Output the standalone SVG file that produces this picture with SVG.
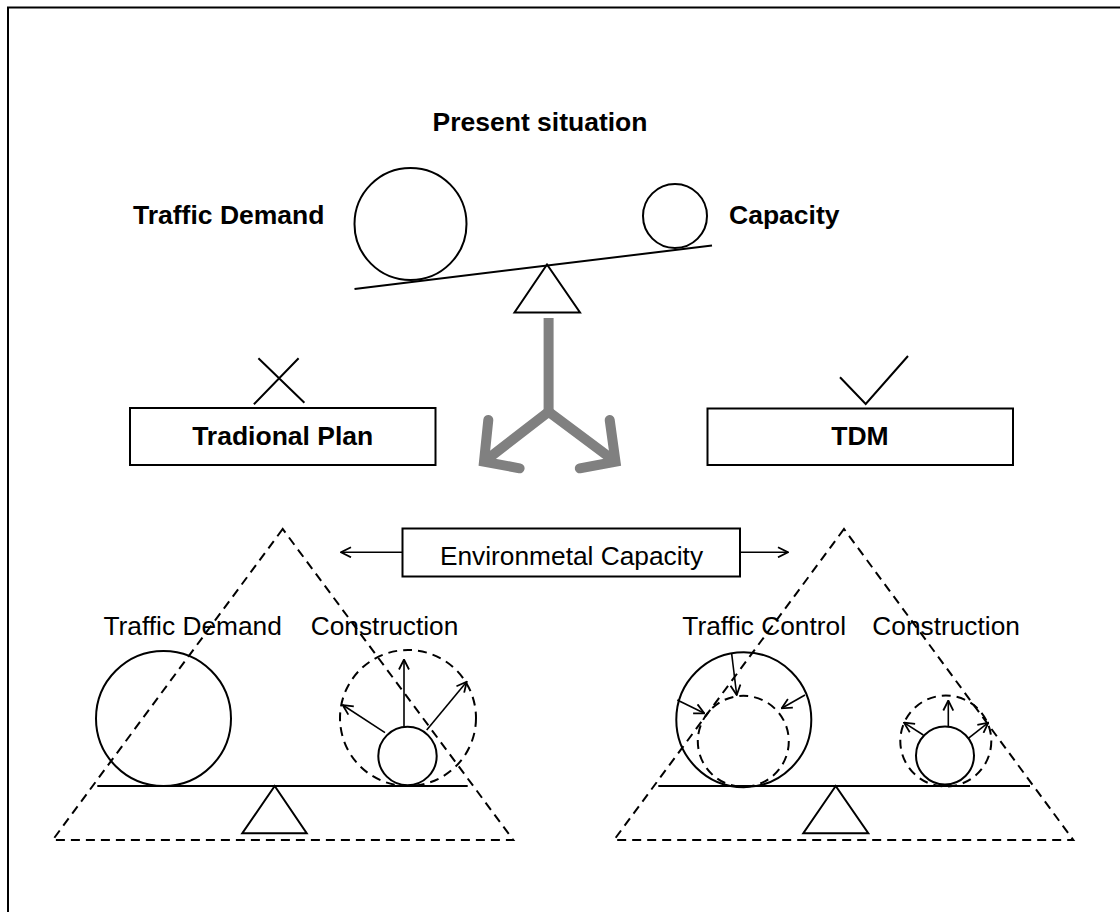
<svg xmlns="http://www.w3.org/2000/svg" width="1120" height="912" viewBox="0 0 1120 912">
  <defs>
    <marker id="arrow-open" viewBox="0 0 12 12" refX="11" refY="6" markerWidth="12" markerHeight="12" markerUnits="userSpaceOnUse" orient="auto">
      <path d="M1,1 L11,6 L1,11" fill="none" stroke="#000" stroke-width="1.8"/>
    </marker>
  </defs>
  <style>
    .bold { font-family: "Liberation Sans", Arial, sans-serif; font-weight: bold; font-size: 26.5px; fill: #000; }
    .label { font-family: "Liberation Sans", Arial, sans-serif; font-size: 26.3px; fill: #000; }
    .solid { fill: none; stroke: #000; stroke-width: 2; }
    .thin { fill: none; stroke: #000; stroke-width: 1.6; }
    .dash { fill: none; stroke: #000; stroke-width: 2; stroke-dasharray: 9 6; }
    .box { fill: #fff; stroke: #000; stroke-width: 2; }
    .push { fill: none; stroke: #000; stroke-width: 1.6; marker-end: url(#arrow-open); }
    .fork { fill: none; stroke: #808080; stroke-width: 10; }
  </style>

  <rect width="1120" height="912" fill="#fff"/>
  <!-- page frame -->
  <rect x="8" y="7.5" width="1130" height="930" fill="none" stroke="#000" stroke-width="2"/>

  <!-- present situation: unbalanced seesaw -->
  <g id="present-situation">
    <text class="bold" x="540" y="131" text-anchor="middle">Present situation</text>
    <text class="bold" x="133" y="224">Traffic Demand</text>
    <text class="bold" x="729" y="224">Capacity</text>
    <circle class="solid" cx="410.5" cy="224" r="56"/>
    <circle class="solid" cx="675" cy="216" r="32"/>
    <line class="solid" x1="354.5" y1="289" x2="712" y2="245.5"/>
    <polygon class="solid" points="547,264.5 514.5,312.5 580,312.5" stroke-width="2.2"/>
  </g>

  <!-- fork of choices -->
  <g id="connectors">
    <line class="fork" x1="548.6" y1="318" x2="548.6" y2="412"/>
    <path class="fork" d="M484,461.7 L548.6,411.7 L615.5,461.7" stroke-linejoin="miter"/>
    <path class="fork" d="M488.3,420 L484,461.7 L519.6,468.3" stroke-linecap="round" stroke-linejoin="miter"/>
    <path class="fork" d="M609.7,420 L615.5,461.7 L579.8,468.3" stroke-linecap="round" stroke-linejoin="miter"/>
    <line class="push" x1="402.5" y1="552.3" x2="341" y2="552.3"/>
    <line class="push" x1="740" y1="552.3" x2="788" y2="552.3"/>
  </g>

  <g id="traditional-plan">
    <rect class="box" x="130" y="408" width="305.5" height="57"/>
    <text class="bold" x="282.7" y="444.5" text-anchor="middle">Tradional Plan</text>
    <path class="solid" d="M258.4,358.3 L304.4,402.7 M298.6,358.3 L253.9,404.3"/>
  </g>

  <g id="tdm">
    <rect class="box" x="707.5" y="408.5" width="305.5" height="56.5"/>
    <text class="bold" x="860" y="445" text-anchor="middle">TDM</text>
    <path class="solid" d="M840,377.3 L865.7,404 L908,356" stroke-width="2.2"/>
  </g>

  <g id="environmental-capacity">
    <rect class="box" x="402.5" y="528.5" width="337.5" height="48"/>
    <text class="label" x="571.5" y="564.5" text-anchor="middle">Environmetal Capacity</text>
  </g>

  <!-- traditional plan outcome -->
  <g id="traditional-outcome">
    <polygon class="dash" points="282.7,529 52.7,840 513.3,840"/>
    <text class="label" x="103.5" y="635">Traffic Demand</text>
    <text class="label" x="310.7" y="635">Construction</text>
    <circle class="solid" cx="163.5" cy="718.5" r="67.5"/>
    <circle class="dash" cx="408" cy="718" r="68"/>
    <circle class="solid" cx="407.5" cy="756" r="29.2"/>
    <line class="solid" x1="97.3" y1="786" x2="467.7" y2="786"/>
    <polygon class="solid" points="274.7,786 242.3,833.3 306.7,833.3" stroke-width="2.2"/>
    <line class="push" x1="404" y1="726.7" x2="404" y2="659.5"/>
    <line class="push" x1="385" y1="732.7" x2="342.7" y2="705"/>
    <line class="push" x1="426.7" y1="730" x2="466.7" y2="681.7"/>
  </g>

  <!-- TDM outcome -->
  <g id="tdm-outcome">
    <polygon class="dash" points="844,529 614,840 1073.3,840"/>
    <text class="label" x="682.3" y="635">Traffic Control</text>
    <text class="label" x="872.3" y="635">Construction</text>
    <circle class="solid" cx="743.8" cy="719.7" r="67.5"/>
    <circle class="dash" cx="743.3" cy="741.3" r="45.5"/>
    <line class="push" x1="731.7" y1="654" x2="736.7" y2="695"/>
    <line class="push" x1="677.3" y1="700" x2="704.3" y2="713.3"/>
    <line class="push" x1="805" y1="695" x2="781.7" y2="708.3"/>
    <circle class="dash" cx="945.8" cy="741" r="45.5"/>
    <circle class="solid" cx="945" cy="755.5" r="29"/>
    <line class="solid" x1="658.3" y1="786" x2="1030" y2="786"/>
    <polygon class="solid" points="835.7,786 803.3,833.3 868.3,833.3" stroke-width="2.2"/>
    <line class="push" x1="948.3" y1="726.7" x2="948.3" y2="700.5"/>
    <line class="push" x1="923.3" y1="735" x2="904" y2="722.7"/>
    <line class="push" x1="968.3" y1="738.3" x2="988.3" y2="722.7"/>
  </g>
</svg>
